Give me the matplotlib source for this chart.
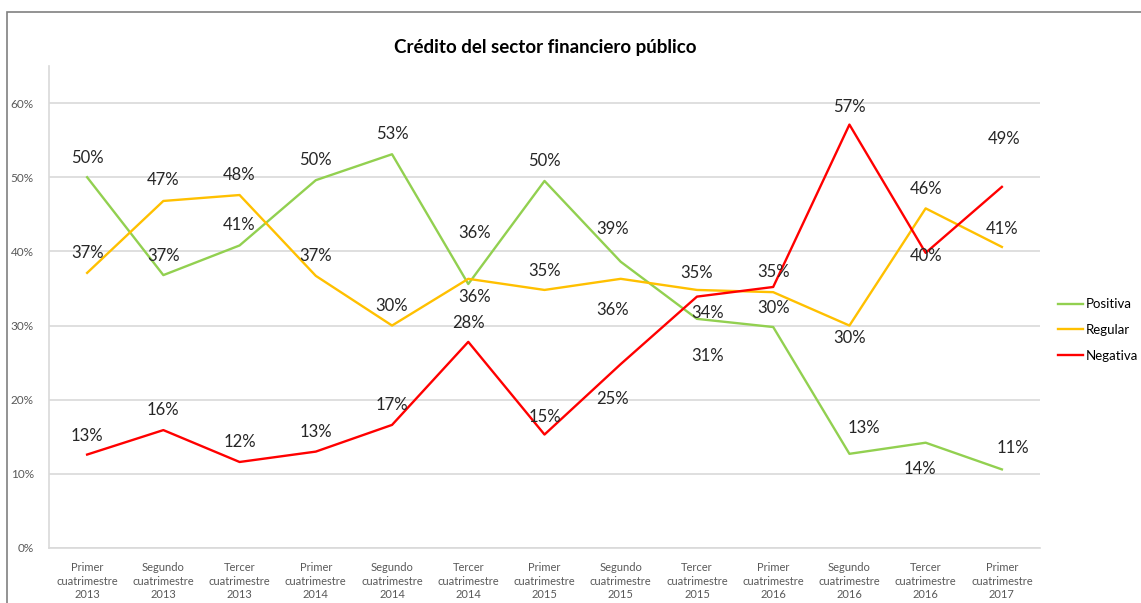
import numpy as np
import matplotlib.pyplot as plt
from matplotlib.patches import Rectangle

plt.rcParams['font.family'] = ['Lato', 'DejaVu Sans']

categories = ['Primer\ncuatrimestre\n2013', 'Segundo\ncuatrimestre\n2013', 'Tercer\ncuatrimestre\n2013',
              'Primer\ncuatrimestre\n2014', 'Segundo\ncuatrimestre\n2014', 'Tercer\ncuatrimestre\n2014',
              'Primer\ncuatrimestre\n2015', 'Segundo\ncuatrimestre\n2015', 'Tercer\ncuatrimestre\n2015',
              'Primer\ncuatrimestre\n2016', 'Segundo\ncuatrimestre\n2016', 'Tercer\ncuatrimestre\n2016',
              'Primer\ncuatrimestre\n2017']

positiva = [0.50, 0.368, 0.408, 0.496, 0.531, 0.356, 0.495, 0.386, 0.309, 0.298, 0.127, 0.142, 0.106]
regular = [0.371, 0.468, 0.476, 0.367, 0.30, 0.363, 0.348, 0.363, 0.348, 0.345, 0.30, 0.458, 0.406]
negativa = [0.126, 0.159, 0.116, 0.130, 0.166, 0.278, 0.153, 0.248, 0.339, 0.352, 0.571, 0.398, 0.487]

series_names = ['Positiva', 'Regular', 'Negativa']
colors = ['#92d050', '#ffc000', '#ff0000']

# label offsets in pixels (dx, dy), positive dy = up; None = label hidden behind another
off_pos = [(0, 19), (0, 19), (0, 20), (0, 20), (0, 20), (6, 51), (0, 20), (-8, 33),
           (11, -37), (0, 19), (14, 26), (-6, -26), (11, 21)]
off_reg = [(0, 20), (0, 21), (0, 20), (0, 20), (0, 20), (6, -18), (0, 19), (-8, -31),
           (0, 17), None, (0, -12), (0, 19), (0, 18)]
off_neg = [(0, 19), (0, 20), (0, 20), (0, 20), (0, 20), (0, 19), (0, 18), (-8, -35),
           (11, -16), (0, 15), (0, 18), (0, -3), (2, 48)]

fig = plt.figure(figsize=(11.41, 6.03), dpi=100)
fig.patches.append(Rectangle((7 / 1141, -0.01), 1.02, 1 - 12 / 603 + 0.01, transform=fig.transFigure,
                             fill=False, edgecolor='#808080', lw=1.2))
ax = fig.add_axes([49 / 1141, 55 / 603, 991 / 1141, 482 / 603])

x = np.arange(len(categories))
for vals, offs, name, c in zip([positiva, regular, negativa], [off_pos, off_reg, off_neg], series_names, colors):
    ax.plot(x, vals, color=c, lw=1.7, label=name)
    for xi, v, off in zip(x, vals, offs):
        if off is None:
            continue
        ax.annotate('{:.0f}%'.format(v * 100), (xi, v), xytext=off, textcoords='offset pixels',
                    ha='center', va='center', fontsize=12, color='#262626')

ax.set_xlim(-0.5, len(categories) - 0.5)
ax.set_ylim(0, 0.65)
yt = np.arange(0, 0.61, 0.1)
ax.set_yticks(yt)
ax.set_yticklabels(['{:.0f}%'.format(t * 100) for t in yt], fontsize=8.5, color='#595959')
ax.set_xticks(x)
ax.set_xticklabels(categories, fontsize=8, color='#595959', linespacing=1.3)
ax.tick_params(length=0, pad=10)
ax.tick_params(axis='y', pad=11)
ax.grid(axis='y', color='#d9d9d9', lw=1.2)
ax.set_axisbelow(True)
for s in ['top', 'right']:
    ax.spines[s].set_visible(False)
for s in ['left', 'bottom']:
    ax.spines[s].set_color('#d9d9d9')
    ax.spines[s].set_linewidth(1.2)

fig.text(545 / 1141, 1 - 47 / 603, 'Crédito del sector financiero público', ha='center', va='center',
         fontsize=13.5, fontweight='bold', color='black')

fig.legend(loc='center left', bbox_to_anchor=(1058 / 1141, 1 - 330 / 603), frameon=False, fontsize=9.5,
           handlelength=1.9, handletextpad=0.2, labelspacing=1.05, borderpad=0, borderaxespad=0)

fig.savefig('out.png', dpi=100)
